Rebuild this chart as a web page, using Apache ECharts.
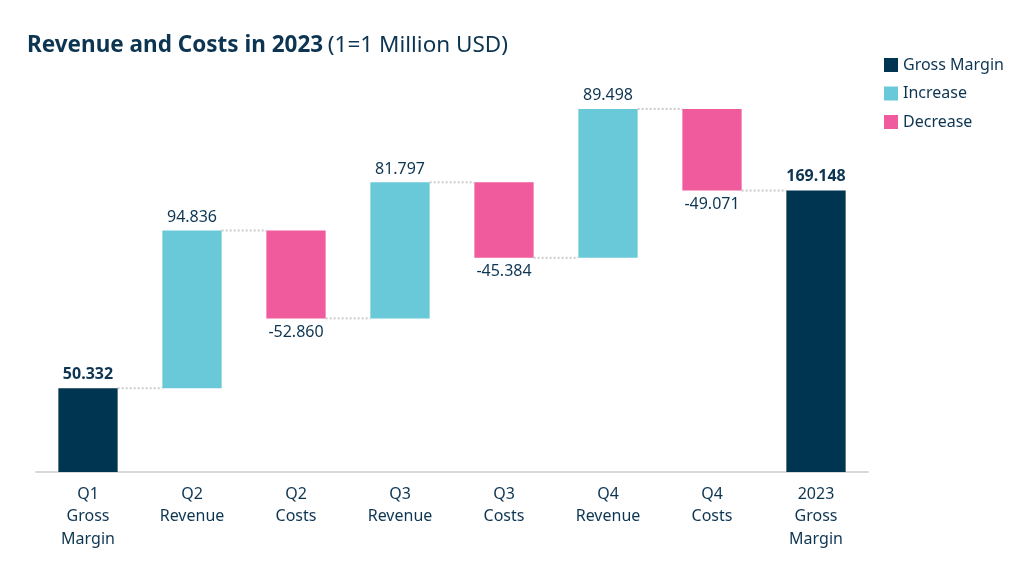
<!DOCTYPE html>
<html>
<head>
<meta charset="utf-8">
<script src="https://cdn.jsdelivr.net/npm/echarts@6/dist/echarts.min.js"></script>
<style>html,body{margin:0;padding:0;background:#fff}#c{width:1018px;height:561px}</style>
</head>
<body>
<div id="c"></div>
<script>
var categories = ['Q1\nGross\nMargin','Q2\nRevenue','Q2\nCosts','Q3\nRevenue','Q3\nCosts','Q4\nRevenue','Q4\nCosts','2023\nGross\nMargin'];
var deltas = [null, 94.836, -52.860, 81.797, -45.384, 89.498, -49.071, null];
var grossMargin = [50.332, null, null, null, null, null, null, 169.148];

var NAVY = '#003552', CYAN = '#69C9D9', PINK = '#EF5B9C', TXT = '#0D3552';
var FONT = 'Noto Sans';

var base = [], inc = [], dec = [], gm = [], levels = [];
var running = 0;
for (var i = 0; i < categories.length; i++) {
  if (grossMargin[i] != null) {
    running = grossMargin[i];
    base.push('-'); inc.push('-'); dec.push('-'); gm.push(grossMargin[i]);
  } else {
    var d = deltas[i];
    gm.push('-');
    if (d >= 0) { base.push(running); inc.push(d); dec.push('-'); running += d; }
    else { base.push(running + d); dec.push(-d); inc.push('-'); running += d; }
  }
  if (i < categories.length - 1) levels.push([i, running]);
}

var fmt3 = function (v) { return v.toFixed(3); };
var BW = 0.57;

var chart = echarts.init(document.getElementById('c'));
chart.setOption({
  animation: false,
  textStyle: { fontFamily: FONT },
  title: {
    left: 22, top: 29,
    text: '{b|Revenue and Costs in 2023} {n|(1=1 Million USD)}',
    textStyle: {
      rich: {
        b: { fontSize: 22.5, fontWeight: 'bold', color: TXT, fontFamily: FONT },
        n: { fontSize: 22.5, fontWeight: 'normal', color: TXT, fontFamily: FONT }
      }
    }
  },
  legend: {
    orient: 'vertical', left: 879, top: 52,
    itemWidth: 14, itemHeight: 14, itemGap: 12.5, icon: 'rect',
    textStyle: { fontSize: 16, color: TXT, fontFamily: FONT, padding: [0, 0, 0, 0] },
    data: ['Gross Margin', 'Increase', 'Decrease']
  },
  grid: { left: 36, right: 1018 - 868, top: 76, bottom: 89 },
  xAxis: {
    type: 'category', data: categories,
    axisLine: { lineStyle: { color: '#D9D9D9', width: 2 } },
    axisTick: { show: false },
    axisLabel: { color: TXT, fontSize: 16, lineHeight: 22.5, margin: 11, fontFamily: FONT, interval: 0 }
  },
  yAxis: { type: 'value', min: 0, max: 238, show: false, splitLine: { show: false } },
  series: [
    {
      type: 'custom', silent: true, z: 1,
      data: levels,
      renderItem: function (params, api) {
        var p = api.coord([api.value(0), api.value(1)]);
        var bw = api.size([1, 0])[0];
        var half = bw * BW / 2;
        return {
          type: 'line',
          shape: { x1: p[0] + half, y1: p[1], x2: p[0] + bw - half, y2: p[1] },
          style: { stroke: '#CCCCCC', lineWidth: 2, lineDash: [2, 2] }
        };
      }
    },
    { name: 'base', type: 'bar', stack: 'w', barWidth: (BW * 100) + '%', silent: true,
      itemStyle: { color: 'transparent' }, data: base },
    { name: 'Gross Margin', type: 'bar', stack: 'w', barWidth: (BW * 100) + '%',
      itemStyle: { color: NAVY }, data: gm,
      label: { show: true, position: 'top', distance: 6, color: TXT, fontSize: 16, fontWeight: 'bold', fontFamily: FONT,
        formatter: function (p) { return fmt3(p.value); } } },
    { name: 'Increase', type: 'bar', stack: 'w', barWidth: (BW * 100) + '%',
      itemStyle: { color: CYAN }, data: inc,
      label: { show: true, position: 'top', distance: 5, color: TXT, fontSize: 16, fontFamily: FONT,
        formatter: function (p) { return fmt3(p.value); } } },
    { name: 'Decrease', type: 'bar', stack: 'w', barWidth: (BW * 100) + '%',
      itemStyle: { color: PINK }, data: dec,
      label: { show: true, position: 'bottom', distance: 6, color: TXT, fontSize: 16, fontFamily: FONT,
        formatter: function (p) { return '-' + fmt3(p.value); } } }
  ]
});
</script>
</body>
</html>
